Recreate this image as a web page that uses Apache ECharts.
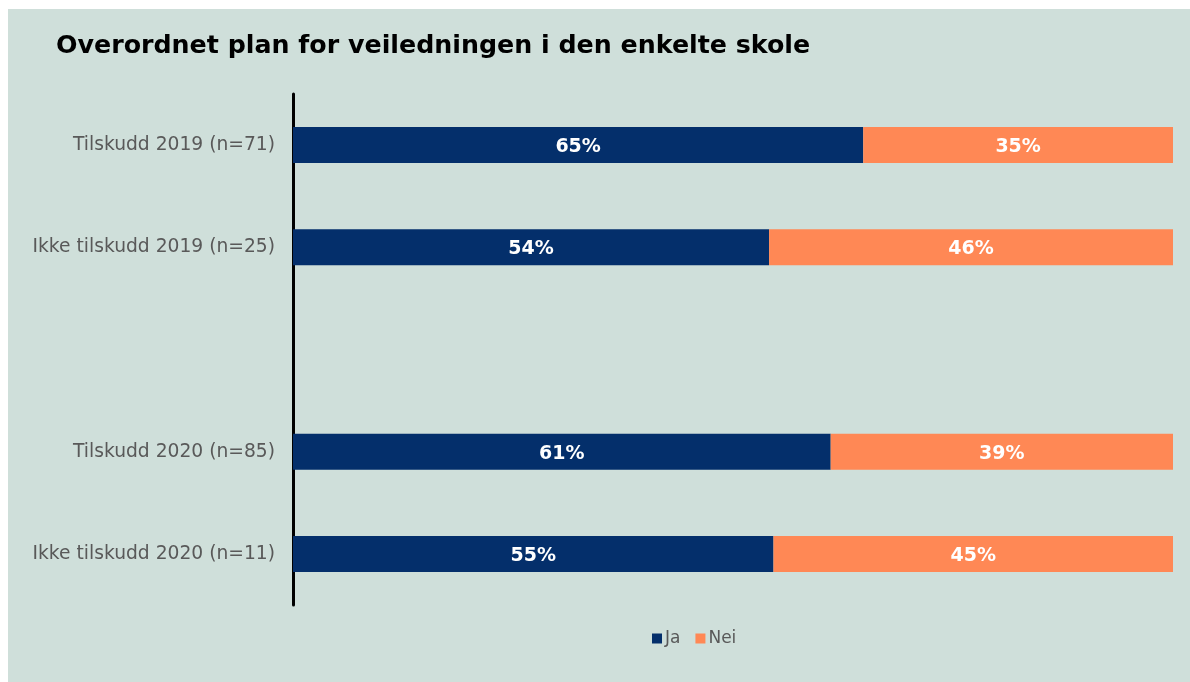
<!DOCTYPE html>
<html><head><meta charset="utf-8">
<script src="https://cdn.jsdelivr.net/npm/echarts@6/dist/echarts.min.js"></script>
<style>
html,body{margin:0;padding:0;background:#fff;}
#c{position:absolute;left:8px;top:9px;width:1182px;height:673px;background:#cfdfda;}
</style></head>
<body><div id="c"></div>
<script>
const categories = ['Tilskudd 2019 (n=71)', 'Ikke tilskudd 2019 (n=25)', '', 'Tilskudd 2020 (n=85)', 'Ikke tilskudd 2020 (n=11)'];
const jaValues = [64.8, 54.1, null, 61.1, 54.6];
const neiValues = [35.2, 45.9, null, 38.9, 45.4];
const seriesNames = ['Ja', 'Nei'];
const title = 'Overordnet plan for veiledningen i den enkelte skole';

const chart = echarts.init(document.getElementById('c'));
const font = '"DejaVu Sans", Verdana, sans-serif';
const lbl = {
  show: true, position: 'inside', offset: [0, 2], color: '#fff', fontWeight: 'bold', fontSize: 19, fontFamily: font,
  formatter: p => p.value == null ? '' : Math.round(p.value) + '%'
};
chart.setOption({
  backgroundColor: '#cfdfda',
  animation: false,
  title: { text: title, left: 43, top: 20, textStyle: { fontFamily: font, fontSize: 25.3, fontWeight: 'bold', color: '#000' } },
  legend: { data: seriesNames, top: 616, left: 639, itemWidth: 10, itemHeight: 10, itemGap: 15, icon: 'rect',
    textStyle: { fontFamily: font, fontSize: 17, color: '#595959', padding: [0,0,0,-2] } },
  grid: { left: 285, right: 17, top: 85, bottom: 77, containLabel: false },
  xAxis: { type: 'value', min: 0, max: 100, show: false },
  yAxis: { type: 'category', data: categories, inverse: true,
    axisLine: { show: true, lineStyle: { color: '#000', width: 3 } },
    axisTick: { show: false },
    axisLabel: { fontFamily: font, fontSize: 18.7, color: '#595959', margin: 18, lineHeight: 26, padding: [6,0,0,0] } },
  series: [
    { name: seriesNames[0], type: 'bar', stack: 't', data: jaValues, barWidth: 36, itemStyle: { color: '#042f6b' }, label: lbl },
    { name: seriesNames[1], type: 'bar', stack: 't', data: neiValues, barWidth: 36, itemStyle: { color: '#ff8855' }, label: lbl }
  ]
});
</script></body></html>
